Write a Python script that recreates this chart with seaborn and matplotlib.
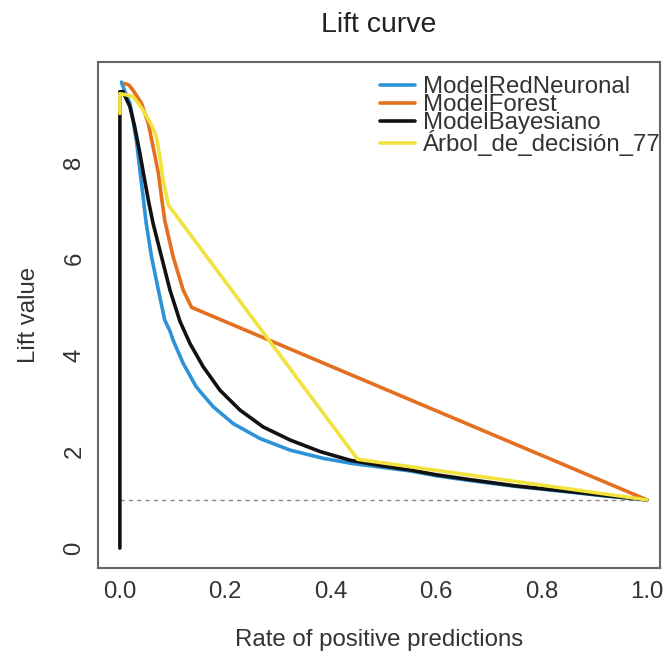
import pandas as pd
import numpy as np
import seaborn as sns
import matplotlib.pyplot as plt

# lift curve values
red_x = [0.003, 0.01, 0.019, 0.025, 0.032, 0.038, 0.044, 0.05, 0.06, 0.073, 0.085, 0.095,
         0.101, 0.12, 0.145, 0.177, 0.215, 0.266, 0.323, 0.386, 0.437, 0.5, 0.55, 0.6,
         0.657, 0.75, 0.846, 0.92, 1.0]
red_y = [9.66, 9.45, 9.22, 8.87, 8.39, 7.83, 7.29, 6.73, 6.04, 5.35, 4.73, 4.5,
         4.31, 3.83, 3.34, 2.93, 2.58, 2.27, 2.03, 1.86, 1.76, 1.67, 1.6, 1.5,
         1.41, 1.28, 1.17, 1.08, 1.0]

forest_x = [0.009, 0.017, 0.025, 0.041, 0.054, 0.063, 0.073, 0.078, 0.085, 0.101, 0.12, 0.136, 1.0]
forest_y = [9.63, 9.6, 9.49, 9.22, 8.8, 8.32, 7.77, 7.35, 6.8, 6.04, 5.35, 4.99, 1.0]

bayes_x = [0.0, 0.0, 0.006, 0.019, 0.028, 0.038, 0.047, 0.054, 0.063, 0.079, 0.095, 0.114,
           0.133, 0.158, 0.19, 0.228, 0.272, 0.323, 0.38, 0.437, 0.5, 0.55, 0.6, 0.657,
           0.75, 0.846, 0.92, 1.0]
bayes_y = [0.0, 9.46, 9.46, 9.15, 8.74, 8.18, 7.63, 7.21, 6.73, 6.04, 5.35, 4.7,
           4.24, 3.76, 3.27, 2.86, 2.51, 2.24, 2.0, 1.82, 1.7, 1.62, 1.52, 1.43,
           1.29, 1.18, 1.09, 1.0]

arbol_x = [0.0, 0.0, 0.01, 0.025, 0.035, 0.044, 0.06, 0.069, 0.076, 0.082, 0.092, 0.451, 1.0]
arbol_y = [9.01, 9.42, 9.4, 9.36, 9.22, 9.08, 8.77, 8.53, 8.11, 7.63, 7.11, 1.84, 1.0]

models = ["ModelRedNeuronal", "ModelForest", "ModelBayesiano", "Árbol_de_decisión_77"]
colors = ["#2e93d6", "#e4701f", "#111111", "#f1e23e"]

frames = []
for name, xs, ys in zip(models, [red_x, forest_x, bayes_x, arbol_x],
                        [red_y, forest_y, bayes_y, arbol_y]):
    frames.append(pd.DataFrame({"rpp": xs, "lift": ys, "model": name}))
df = pd.concat(frames, ignore_index=True)

sns.set_style("white")
plt.rcParams['font.family'] = ['Liberation Sans', 'DejaVu Sans']

fig = plt.figure(figsize=(6.66, 6.56), dpi=100)
ax = fig.add_axes([0.147, 0.134, 0.844, 0.771])

# baseline
ax.plot([0, 1], [1, 1], linestyle=(0, (3, 3)), color="#888888", linewidth=1.0, zorder=1)

sns.lineplot(data=df, x="rpp", y="lift", hue="model", palette=dict(zip(models, colors)),
             sort=False, estimator=None, units="model", linewidth=2.6, ax=ax, legend=False)

fs = 17.3
ax.set_xlim(-0.0417, 1.0247)
ax.set_ylim(-0.415, 10.07)
ax.set_xticks([0, 0.2, 0.4, 0.6, 0.8, 1.0])
ax.set_xticklabels(["0.0", "0.2", "0.4", "0.6", "0.8", "1.0"])
ax.set_yticks([0, 2, 4, 6, 8])
ax.tick_params(axis="both", direction="out", length=6, width=1.2, color="#555555",
               labelsize=fs, labelcolor="#333333", pad=3)
for lab in ax.get_yticklabels():
    lab.set_rotation(90)
    lab.set_va("center")
for sp in ax.spines.values():
    sp.set_color("#666666")
    sp.set_linewidth(1.5)

ax.set_xlabel("Rate of positive predictions", fontsize=fs, color="#333333", labelpad=19)
ax.set_ylabel("Lift value", fontsize=fs, color="#333333", labelpad=17)
ax.set_title("Lift curve", fontsize=20.5, color="#222222", pad=22)

handles = [plt.Line2D([0], [0], color=c, linewidth=2.6) for c in colors]
ax.legend(handles, models, loc="upper left", bbox_to_anchor=(0.502, 0.972), frameon=False,
          fontsize=fs, handlelength=1.46, handletextpad=0.33, labelspacing=-0.17,
          borderpad=0, borderaxespad=0, labelcolor="#333333")

fig.savefig("out.png", dpi=100)
